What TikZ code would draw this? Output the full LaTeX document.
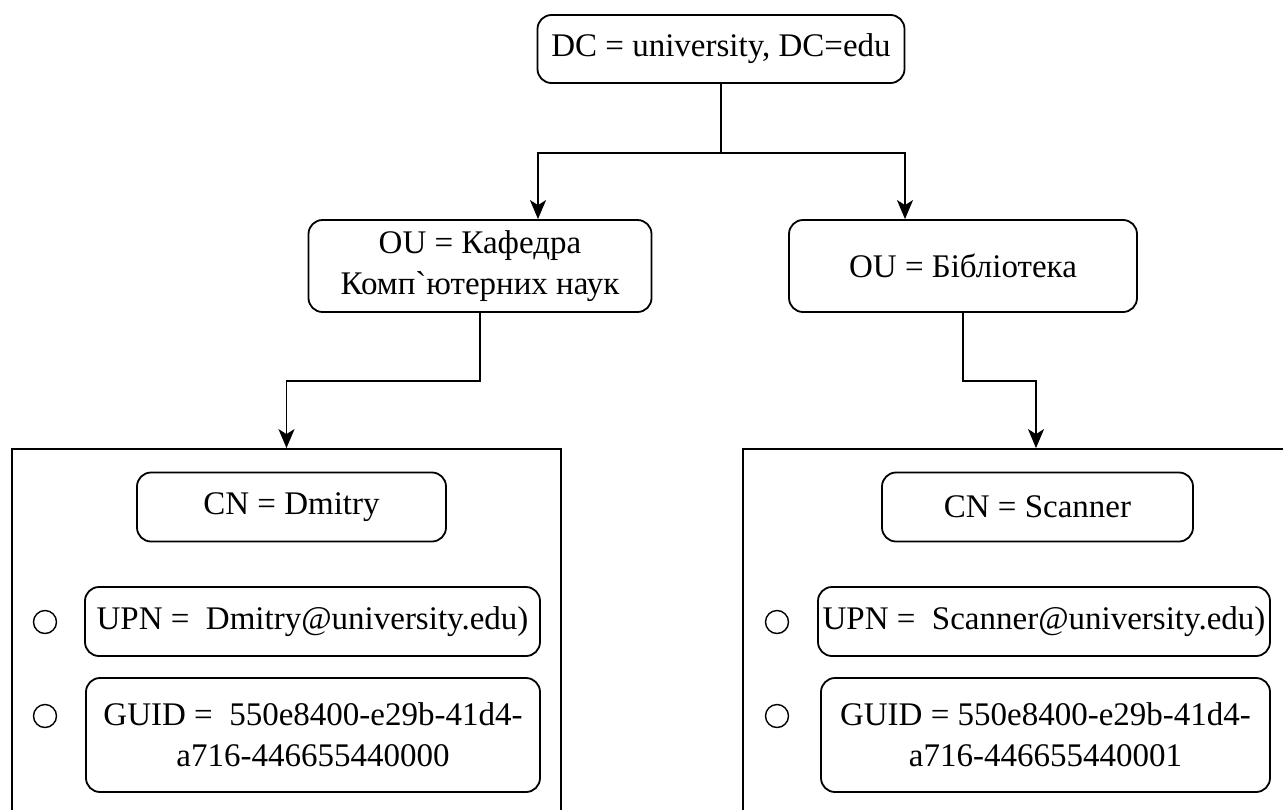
\documentclass[tikz,border=0pt]{standalone}
\usepackage{fontspec}
\setmainfont{Liberation Serif}
\usetikzlibrary{arrows.meta}

\begin{document}
\begin{tikzpicture}[x=1pt,y=-1pt,
    every node/.style={font=\fontsize{33}{41}\selectfont},
    box/.style={draw, rounded corners=14pt, line width=1.8pt, align=center, inner sep=0pt},
    frame/.style={draw, line width=1.8pt, inner sep=0pt},
    arr/.style={-{Stealth[length=19pt,width=16pt,inset=5pt]}, line width=1.8pt}]
      \useasboundingbox (0,0) rectangle (1283,809);
      \clip (0,0) rectangle (1283,809);
      % tree
      \node[box, minimum width=367pt, minimum height=68pt] (dc) at (721,49) {DC = university, DC=edu};
      \node[box, minimum width=343pt, minimum height=92pt] (kaf) at (480,266) {OU = Кафедра\\Комп\textasciigrave ютерних наук};
      \node[box, minimum width=348pt, minimum height=92pt] (bib) at (963,266) {OU = Бібліотека};
      % containers, open at the bottom
      \node[frame, minimum width=549pt, minimum height=400pt] (lbox) at (286.5,649) {};
      \node[frame, minimum width=586pt, minimum height=400pt] (rbox) at (1036,649) {};
      \draw[arr] (dc.south) -- ++(0,69) -| ([xshift=58pt]kaf.north);
      \draw[arr] (dc.south) -- ++(0,69) -| ([xshift=-58pt]bib.north);
      \draw[arr] (kaf.south) -- ++(0,68) -| (lbox.north);
      \draw[arr] (bib.south) -- ++(0,68) -| (rbox.north);
      % left object
      \node[box, minimum width=309pt, minimum height=69pt] (cnd) at (291.5,507) {CN = Dmitry};
      \node[box, minimum width=455pt, minimum height=69pt] (upnd) at (312.5,621.5) {UPN =\ \ Dmitry@university.edu)};
      \node[box, minimum width=454pt, minimum height=114pt] (guidd) at (313,735) {GUID =\ \ 550e8400-e29b-41d4-\\a716-446655440000};
      % right object
      \node[box, minimum width=311pt, minimum height=69pt] (cns) at (1037.5,507) {CN = Scanner};
      \node[box, minimum width=452pt, minimum height=69pt] (upns) at (1044,621.5) {UPN =\ \ Scanner@university.edu)};
      \node[box, minimum width=449pt, minimum height=114pt] (guids) at (1045.5,735) {GUID = 550e8400-e29b-41d4-\\a716-446655440001};
      \foreach \x/\y in {45/622, 45/716, 777/622, 777/716}{
          \draw[line width=1.4pt] (\x,\y) circle (11.5);
      }
\end{tikzpicture}
\end{document}
